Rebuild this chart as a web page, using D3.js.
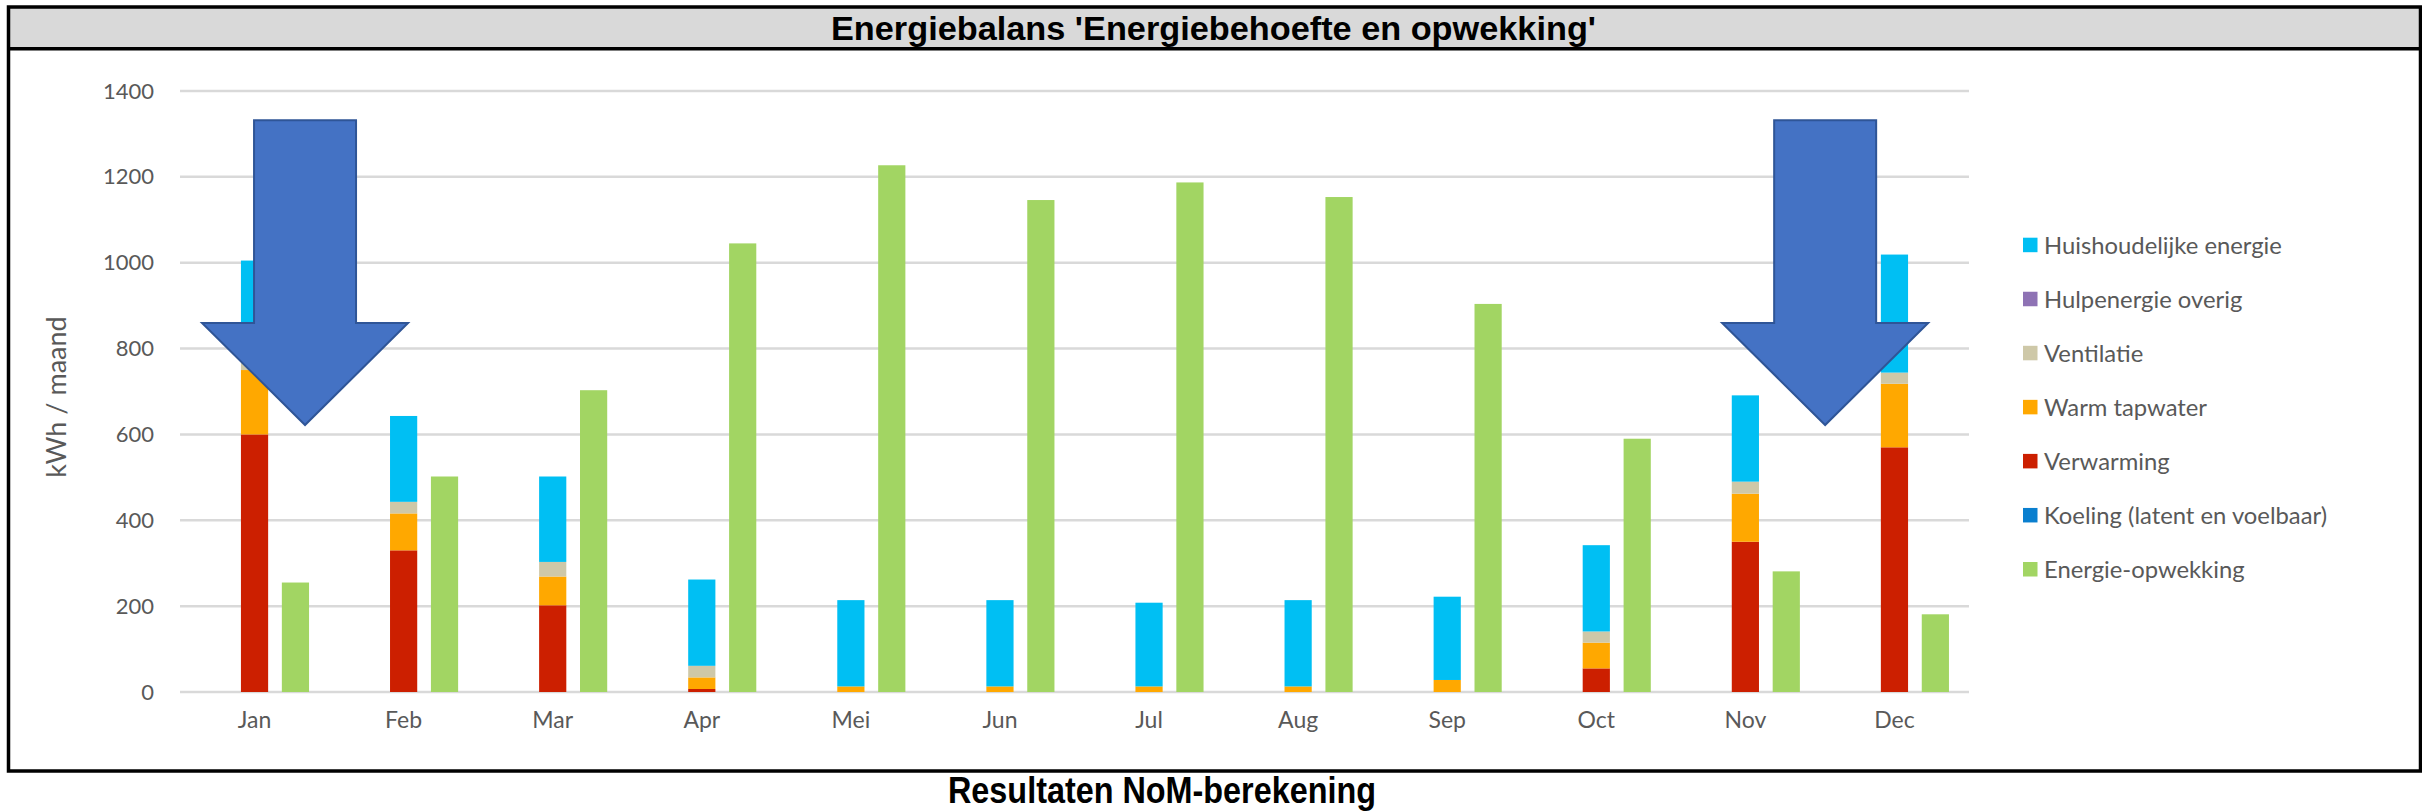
<!DOCTYPE html>
<html lang="nl">
<head>
<meta charset="utf-8">
<title>Energiebalans</title>
<script src="https://d3js.org/d3.v7.min.js"></script>
<style>
body{margin:0;background:#fff;}
#chart text{font-family:Lato,"Open Sans",sans-serif;fill:#595959;}
#chart .kop{font-family:"Liberation Sans",Arial,sans-serif;font-weight:bold;fill:#000;}
</style>
</head>
<body>
<div id="chart"></div>
<script>
// maandwaarden in kWh
var maanden = ["Jan","Feb","Mar","Apr","Mei","Jun","Jul","Aug","Sep","Oct","Nov","Dec"]
var koeling       = [0,0,0,0,0,0,0,0,0,0,0,0]
var verwarming    = [600,330,202,7,0,0,0,0,0,55,350,570]
var tapwater      = [150,86,67,27,13,13,13,13,28,60,112,148]
var ventilatie    = [28,27,34,27,0,0,0,0,0,26,28,26]
var hulpenergie   = [0,0,0,0,0,0,0,0,0,0,0,0]
var huishoudelijk = [227,200,199,201,201,201,195,201,194,201,201,275]
var opwekking     = [255,502,703,1045,1227,1146,1187,1153,904,590,281,181]
var yTicks = [0,200,400,600,800,1000,1200,1400]

var reeksNamen = {
    koeling:"Koeling (latent en voelbaar)",
    verwarming:"Verwarming",
    tapwater:"Warm tapwater",
    ventilatie:"Ventilatie",
    hulpenergie:"Hulpenergie overig",
    huishoudelijk:"Huishoudelijke energie",
    opwekking:"Energie-opwekking"
}
var kleuren = {
    koeling:"#0a7fcf",
    verwarming:"#cc1f00",
    tapwater:"#ffa800",
    ventilatie:"#cec8a8",
    hulpenergie:"#8e72b4",
    huishoudelijk:"#00bff3",
    opwekking:"#a2d563"
}
var stapelVolgorde = ["koeling","verwarming","tapwater","ventilatie","hulpenergie","huishoudelijk"]

var tabel = maanden.map(function(m,i){
    return {maand:m, koeling:koeling[i], verwarming:verwarming[i], tapwater:tapwater[i],
        ventilatie:ventilatie[i], hulpenergie:hulpenergie[i], huishoudelijk:huishoudelijk[i],
        opwekking:opwekking[i]}
})

var w = 2422
var h = 812
var svg = d3.select("#chart").append("svg")
    .attr("width",w)
    .attr("height",h)

// kader en titelbalk
svg.append("rect")
    .attr("x",8.5).attr("y",7).attr("width",2412).attr("height",41.7)
    .attr("fill","#d9d9d9")
svg.append("rect")
    .attr("x",8.5).attr("y",7).attr("width",2412).attr("height",764)
    .attr("fill","none").attr("stroke","#000").attr("stroke-width",3.5)
svg.append("line")
    .attr("x1",8.5).attr("x2",2420.5).attr("y1",48.7).attr("y2",48.7)
    .attr("stroke","#000").attr("stroke-width",3.5)
svg.append("text").attr("class","kop")
    .attr("x",1213.5).attr("y",28).attr("dy","0.36em")
    .attr("text-anchor","middle").style("font-size","33px")
    .attr("textLength",765).attr("lengthAdjust","spacingAndGlyphs")
    .text("Energiebalans 'Energiebehoefte en opwekking'")
svg.append("text").attr("class","kop")
    .attr("x",1162).attr("y",803)
    .attr("text-anchor","middle").style("font-size","37px")
    .attr("textLength",428).attr("lengthAdjust","spacingAndGlyphs")
    .text("Resultaten NoM-berekening")

// schalen
var x = d3.scaleBand().domain(maanden).range([180,1969])
var x1 = d3.scaleBand().domain(["leeg","vraag","opwekking"])
    .range([0,x.bandwidth()]).paddingInner(0.335).paddingOuter(0.49)
var y = d3.scaleLinear().domain([0,1400]).range([692,91])

// rasterlijnen
svg.append("g").selectAll("line")
    .data(yTicks)
    .enter().append("line")
    .attr("x1",180).attr("x2",1969)
    .attr("y1",function(d){ return y(d) })
    .attr("y2",function(d){ return y(d) })
    .attr("stroke","#d9d9d9").attr("stroke-width",2.5)

// y-as
var yAs = svg.append("g")
    .attr("transform","translate(154,0)")
    .call(d3.axisLeft(y).tickValues(yTicks).tickFormat(d3.format("d")).tickSize(0).tickPadding(0))
yAs.select(".domain").remove()
yAs.selectAll("text").style("font-size","22px").attr("fill","#595959")

// x-as
var xAs = svg.append("g")
    .attr("transform","translate(0,712)")
    .call(d3.axisBottom(x).tickSize(0).tickPadding(0))
xAs.select(".domain").remove()
xAs.selectAll("text").style("font-size","23px").attr("fill","#595959")

svg.append("text")
    .attr("transform","translate(57,397) rotate(-90)")
    .attr("text-anchor","middle").attr("dy","0.35em")
    .style("font-size","27px")
    .text("kWh / maand")

// gestapelde kolommen
var stack = d3.stack().keys(stapelVolgorde)
var lagen = stack(tabel)
svg.append("g").selectAll("g")
    .data(lagen)
    .enter().append("g")
    .attr("fill",function(d){ return kleuren[d.key] })
    .selectAll("rect")
    .data(function(d){ return d })
    .enter().append("rect")
    .attr("x",function(d){ return x(d.data.maand) + x1("vraag") })
    .attr("width",x1.bandwidth())
    .attr("y",function(d){ return y(d[1]) })
    .attr("height",function(d){ return y(d[0]) - y(d[1]) })

// opwekking
svg.append("g").selectAll("rect")
    .data(tabel)
    .enter().append("rect")
    .attr("x",function(d){ return x(d.maand) + x1("opwekking") })
    .attr("width",x1.bandwidth())
    .attr("y",function(d){ return y(d.opwekking) })
    .attr("height",function(d){ return y(0) - y(d.opwekking) })
    .attr("fill",kleuren.opwekking)

// legenda
var legendaVolgorde = stapelVolgorde.slice().reverse().concat(["opwekking"])
var legenda = svg.append("g").selectAll("g")
    .data(legendaVolgorde)
    .enter().append("g")
    .attr("transform",function(d,i){ return "translate(2023," + (245 + i*54.05) + ")" })
legenda.append("rect")
    .attr("x",0).attr("y",-7.3).attr("width",14.5).attr("height",14.5)
    .attr("fill",function(d){ return kleuren[d] })
var legTekst = legenda.append("text")
    .attr("x",21).attr("dy","0.36em")
    .style("font-size","23px")
    .text(function(d){ return reeksNamen[d] })
// lettergrootte zo kiezen dat de eerste regel ~238px breed is
var breedte = legTekst.node().getComputedTextLength()
if(breedte > 0){
    var fs = Math.min(27, Math.max(22, 23*238/breedte))
    legTekst.style("font-size", fs + "px")
}

// pijlen (annotatie)
var pijlen = [{maand:"Jan", dx:50.5}, {maand:"Dec", dx:-69.3}]
svg.append("g").selectAll("path")
    .data(pijlen)
    .enter().append("path")
    .attr("d",function(d){
        var cx = x(d.maand) + x.bandwidth()/2 + d.dx
        var tip = y(622)
        var schouder = tip - 102
        var top = y(1332)
        return "M" + (cx-51) + "," + top + "L" + (cx+51) + "," + top +
            "L" + (cx+51) + "," + schouder + "L" + (cx+103) + "," + schouder +
            "L" + cx + "," + tip + "L" + (cx-103) + "," + schouder +
            "L" + (cx-51) + "," + schouder + "Z"
    })
    .attr("fill","#4472c4")
    .attr("stroke","#2f5597")
    .attr("stroke-width",2)
</script>
</body>
</html>
